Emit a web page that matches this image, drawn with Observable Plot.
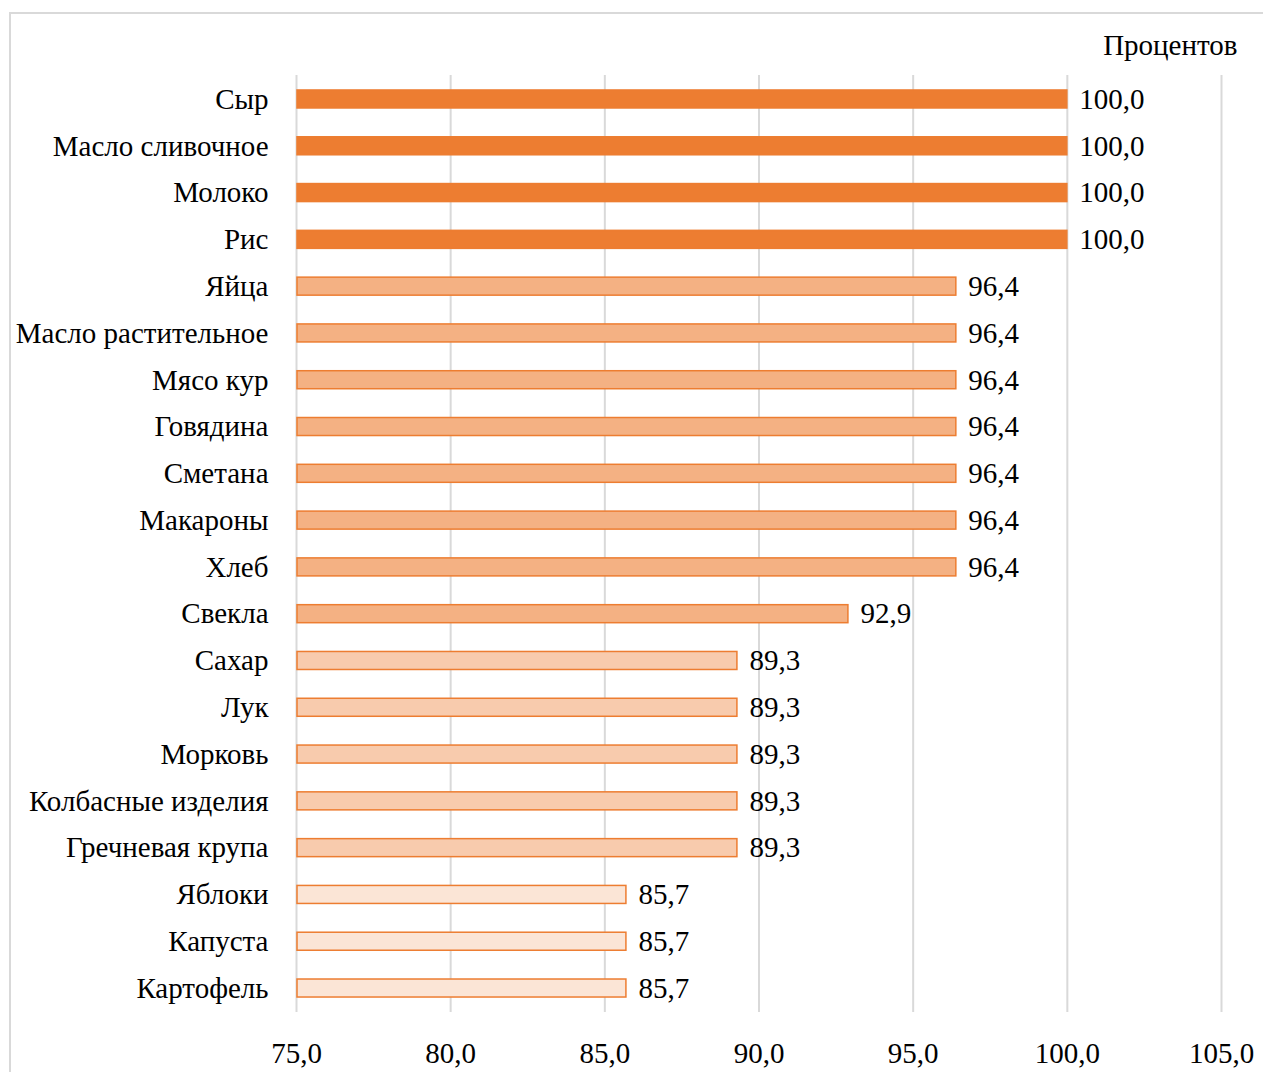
<!DOCTYPE html>
<html>
<head>
<meta charset="utf-8">
<script src="https://cdn.jsdelivr.net/npm/d3@7"></script>
<script src="https://cdn.jsdelivr.net/npm/@observablehq/plot@0.6"></script>
<style>
  html, body { margin: 0; padding: 0; background: #fff; overflow: hidden; }
  #frame { position: absolute; left: 9px; top: 12px; width: 1400px; height: 1200px; border: 2px solid #d9d9d9; box-sizing: border-box; }
  #chart { position: absolute; left: 0; top: 0; }
</style>
</head>
<body>
<div id="frame"></div>
<div id="chart"></div>
<script>
const categories = ["Сыр", "Масло сливочное", "Молоко", "Рис", "Яйца", "Масло растительное", "Мясо кур", "Говядина", "Сметана", "Макароны", "Хлеб", "Свекла", "Сахар", "Лук", "Морковь", "Колбасные изделия", "Гречневая крупа", "Яблоки", "Капуста", "Картофель"];
const values = [100.0, 100.0, 100.0, 100.0, 96.4, 96.4, 96.4, 96.4, 96.4, 96.4, 96.4, 92.9, 89.3, 89.3, 89.3, 89.3, 89.3, 85.7, 85.7, 85.7];
const xTicks = [75, 80, 85, 90, 95, 100, 105];
const unitLabel = "Процентов";

const fillFor = v => v >= 100 ? "#ED7D31" : v >= 92 ? "#F4B183" : v >= 89 ? "#F8CBAD" : "#FBE5D6";
const data = categories.map((c, i) => ({name: c, value: values[i]}));
const fmt = v => v.toFixed(1).replace(".", ",");
const font = "'Liberation Serif', 'Times New Roman', serif";
const fs = 29;

const chart = Plot.plot({
  width: 1263,
  height: 1072,
  marginLeft: 296,
  marginRight: 42,
  marginTop: 75,
  marginBottom: 60,
  style: {fontFamily: font, fontSize: fs + "px", color: "#000", background: "transparent"},
  x: {domain: [75, 105], ticks: xTicks, tickFormat: fmt, label: null},
  y: {domain: categories, paddingInner: 0.615, paddingOuter: 0.32, round: false, label: null},
  marks: [
    Plot.ruleX(xTicks, {stroke: "#d9d9d9", strokeWidth: 2}),
    Plot.barX(data, {
      y: "name", x1: 75, x2: "value",
      fill: d => fillFor(d.value),
      stroke: "#ED7D31", strokeWidth: 1.5, insetLeft: 1
    }),
    Plot.text(data, {
      y: "name", x: "value", text: d => fmt(d.value),
      textAnchor: "start", dx: 12, fill: "#000", fontSize: fs
    }),
    Plot.axisY({tickSize: 0, tickPadding: 28, fontSize: fs, label: null}),
    Plot.axisX({ticks: xTicks, tickFormat: fmt, tickSize: 0, tickPadding: 30, fontSize: fs, label: null}),
    Plot.text([unitLabel], {frameAnchor: "top-right", dx: 16, dy: -41, textAnchor: "end", fontSize: fs, fill: "#000"})
  ]
});
document.getElementById("chart").appendChild(chart);
</script>
</body>
</html>
